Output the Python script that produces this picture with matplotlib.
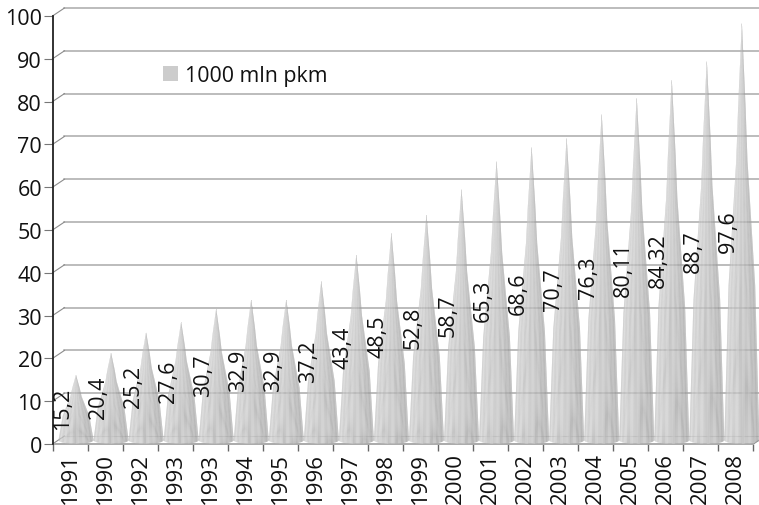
# -*- coding: utf-8 -*-

import numpy as np
import matplotlib
matplotlib.use("Agg")
import matplotlib.pyplot as plt
from matplotlib.collections import PolyCollection
from matplotlib.patches import Patch

plt.rcParams["font.family"] = ["Open Sans", "DejaVu Sans"]

# Data
years = ["1991", "1990", "1992", "1993", "1993", "1994", "1995", "1996", "1997", "1998",
         "1999", "2000", "2001", "2002", "2003", "2004", "2005", "2006", "2007", "2008"]
values = [15.2, 20.4, 25.2, 27.6, 30.7, 32.9, 32.9, 37.2, 43.4, 48.5,
          52.8, 58.7, 65.3, 68.6, 70.7, 76.3, 80.11, 84.32, 88.7, 97.6]
yticks = [0, 10, 20, 30, 40, 50, 60, 70, 80, 90, 100]
series_name = "1000 mln pkm"

# Fake 3D depth, in data units
depth_x = 0.342
depth_y = 1.87
nfacets = 48

# Cone outline: width fraction against distance from the tip, slightly bulged
profile_f = np.array([0, 0.2, 0.33, 0.63, 1.0])
profile_w = np.array([0, 0.21, 0.32, 0.76, 1.0])

# Configure options
opgrid = {"color": "#aaaaaa", "linewidth": 1.1, "zorder": 1, "clip_on": False}
opdiag = {"color": "#8c8c8c", "linewidth": 0.8, "zorder": 1, "clip_on": False}


def facet_shade(t, i):
    # t runs 0 (left edge) to 1 (right edge), darker at the rim and past the middle
    base = np.interp(t, [0, 0.15, 0.4, 0.65, 0.85, 1], [0.72, 0.79, 0.77, 0.72, 0.63, 0.67])
    stripe = 0.022 if i % 6 < 3 else -0.022
    return base + stripe


def draw_cone(ax, pos, value):
    cx = pos + 0.5 + depth_x / 2
    cy = depth_y / 2
    angles = np.linspace(np.pi, 2 * np.pi, nfacets + 1)
    px = 0.5 * np.cos(angles)
    py = (depth_y / 2) * np.sin(angles)
    polys, colors = [], []
    for i in range(nfacets):
        # down the left side of the facet, then back up the right side
        left = [(cx + w * px[i], value + cy - f * value + w * py[i])
                for f, w in zip(profile_f, profile_w)]
        right = [(cx + w * px[i + 1], value + cy - f * value + w * py[i + 1])
                 for f, w in zip(profile_f[::-1], profile_w[::-1])]
        polys.append(left + right)
        g = facet_shade(i / (nfacets - 1), i)
        colors.append((g, g, g))
    pc = PolyCollection(polys, facecolors=colors, edgecolors="none", alpha=0.92,
                        zorder=3, clip_on=False)
    ax.add_collection(pc)


fig = plt.figure(figsize=(7.59, 5.06), dpi=100)
ax = plt.axes([52.5 / 759, 61 / 506, 706.5 / 759, 428 / 506])
ax.set_xlim(0, 20.16)
ax.set_ylim(0, 100)

# Back wall lines with the short diagonals joining them to the axis
for v in yticks:
    ax.plot([depth_x, 20.16], [v + depth_y, v + depth_y],
            **(opgrid if v > 0 else dict(opgrid, color="#cccccc", linewidth=0.8)))
    ax.plot([0, depth_x], [v, v + depth_y], **opdiag)
ax.plot([0, 20], [0, 0], color="#aaaaaa", linewidth=1.4, zorder=2, clip_on=False)
ax.plot([20, 20 + depth_x], [0, depth_y], **opdiag)

for i, v in enumerate(values):
    draw_cone(ax, i, v)
    ax.annotate(str(v).replace(".", ","), (i + 0.5, v / 2), xytext=(-7, 4),
                textcoords="offset pixels", rotation=90, ha="center", va="center",
                fontsize=15.5, color="#111111", zorder=5)

ax.set_yticks(yticks)
ax.set_xticks(np.arange(0, 21))
ax.set_xticklabels([])
ax.set_xticks(np.arange(20) + 0.5, labels=years, minor=True, rotation=90, fontsize=16)
ax.tick_params(axis="x", which="minor", length=0, pad=6, colors="#111111")
ax.tick_params(axis="x", which="major", length=5, width=1.0, color="#666666")
ax.tick_params(axis="y", length=6.5, width=0.8, color="#777777", labelsize=15.5, pad=1,
               labelcolor="#111111")

for side in ["top", "right", "bottom"]:
    ax.spines[side].set_visible(False)
ax.spines["left"].set_linewidth(1.3)
ax.spines["left"].set_color("#222222")

handle = Patch(facecolor="#cccccc", edgecolor="none", label=series_name)
leg = ax.legend(handles=[handle], loc="center left", bbox_to_anchor=(0.156, 0.86), frameon=False,
                fontsize=15.4, handlelength=0.7, handleheight=0.7, handletextpad=0.33,
                labelcolor="#111111", borderpad=0, borderaxespad=0)

fig.savefig("out.png", dpi=100)
